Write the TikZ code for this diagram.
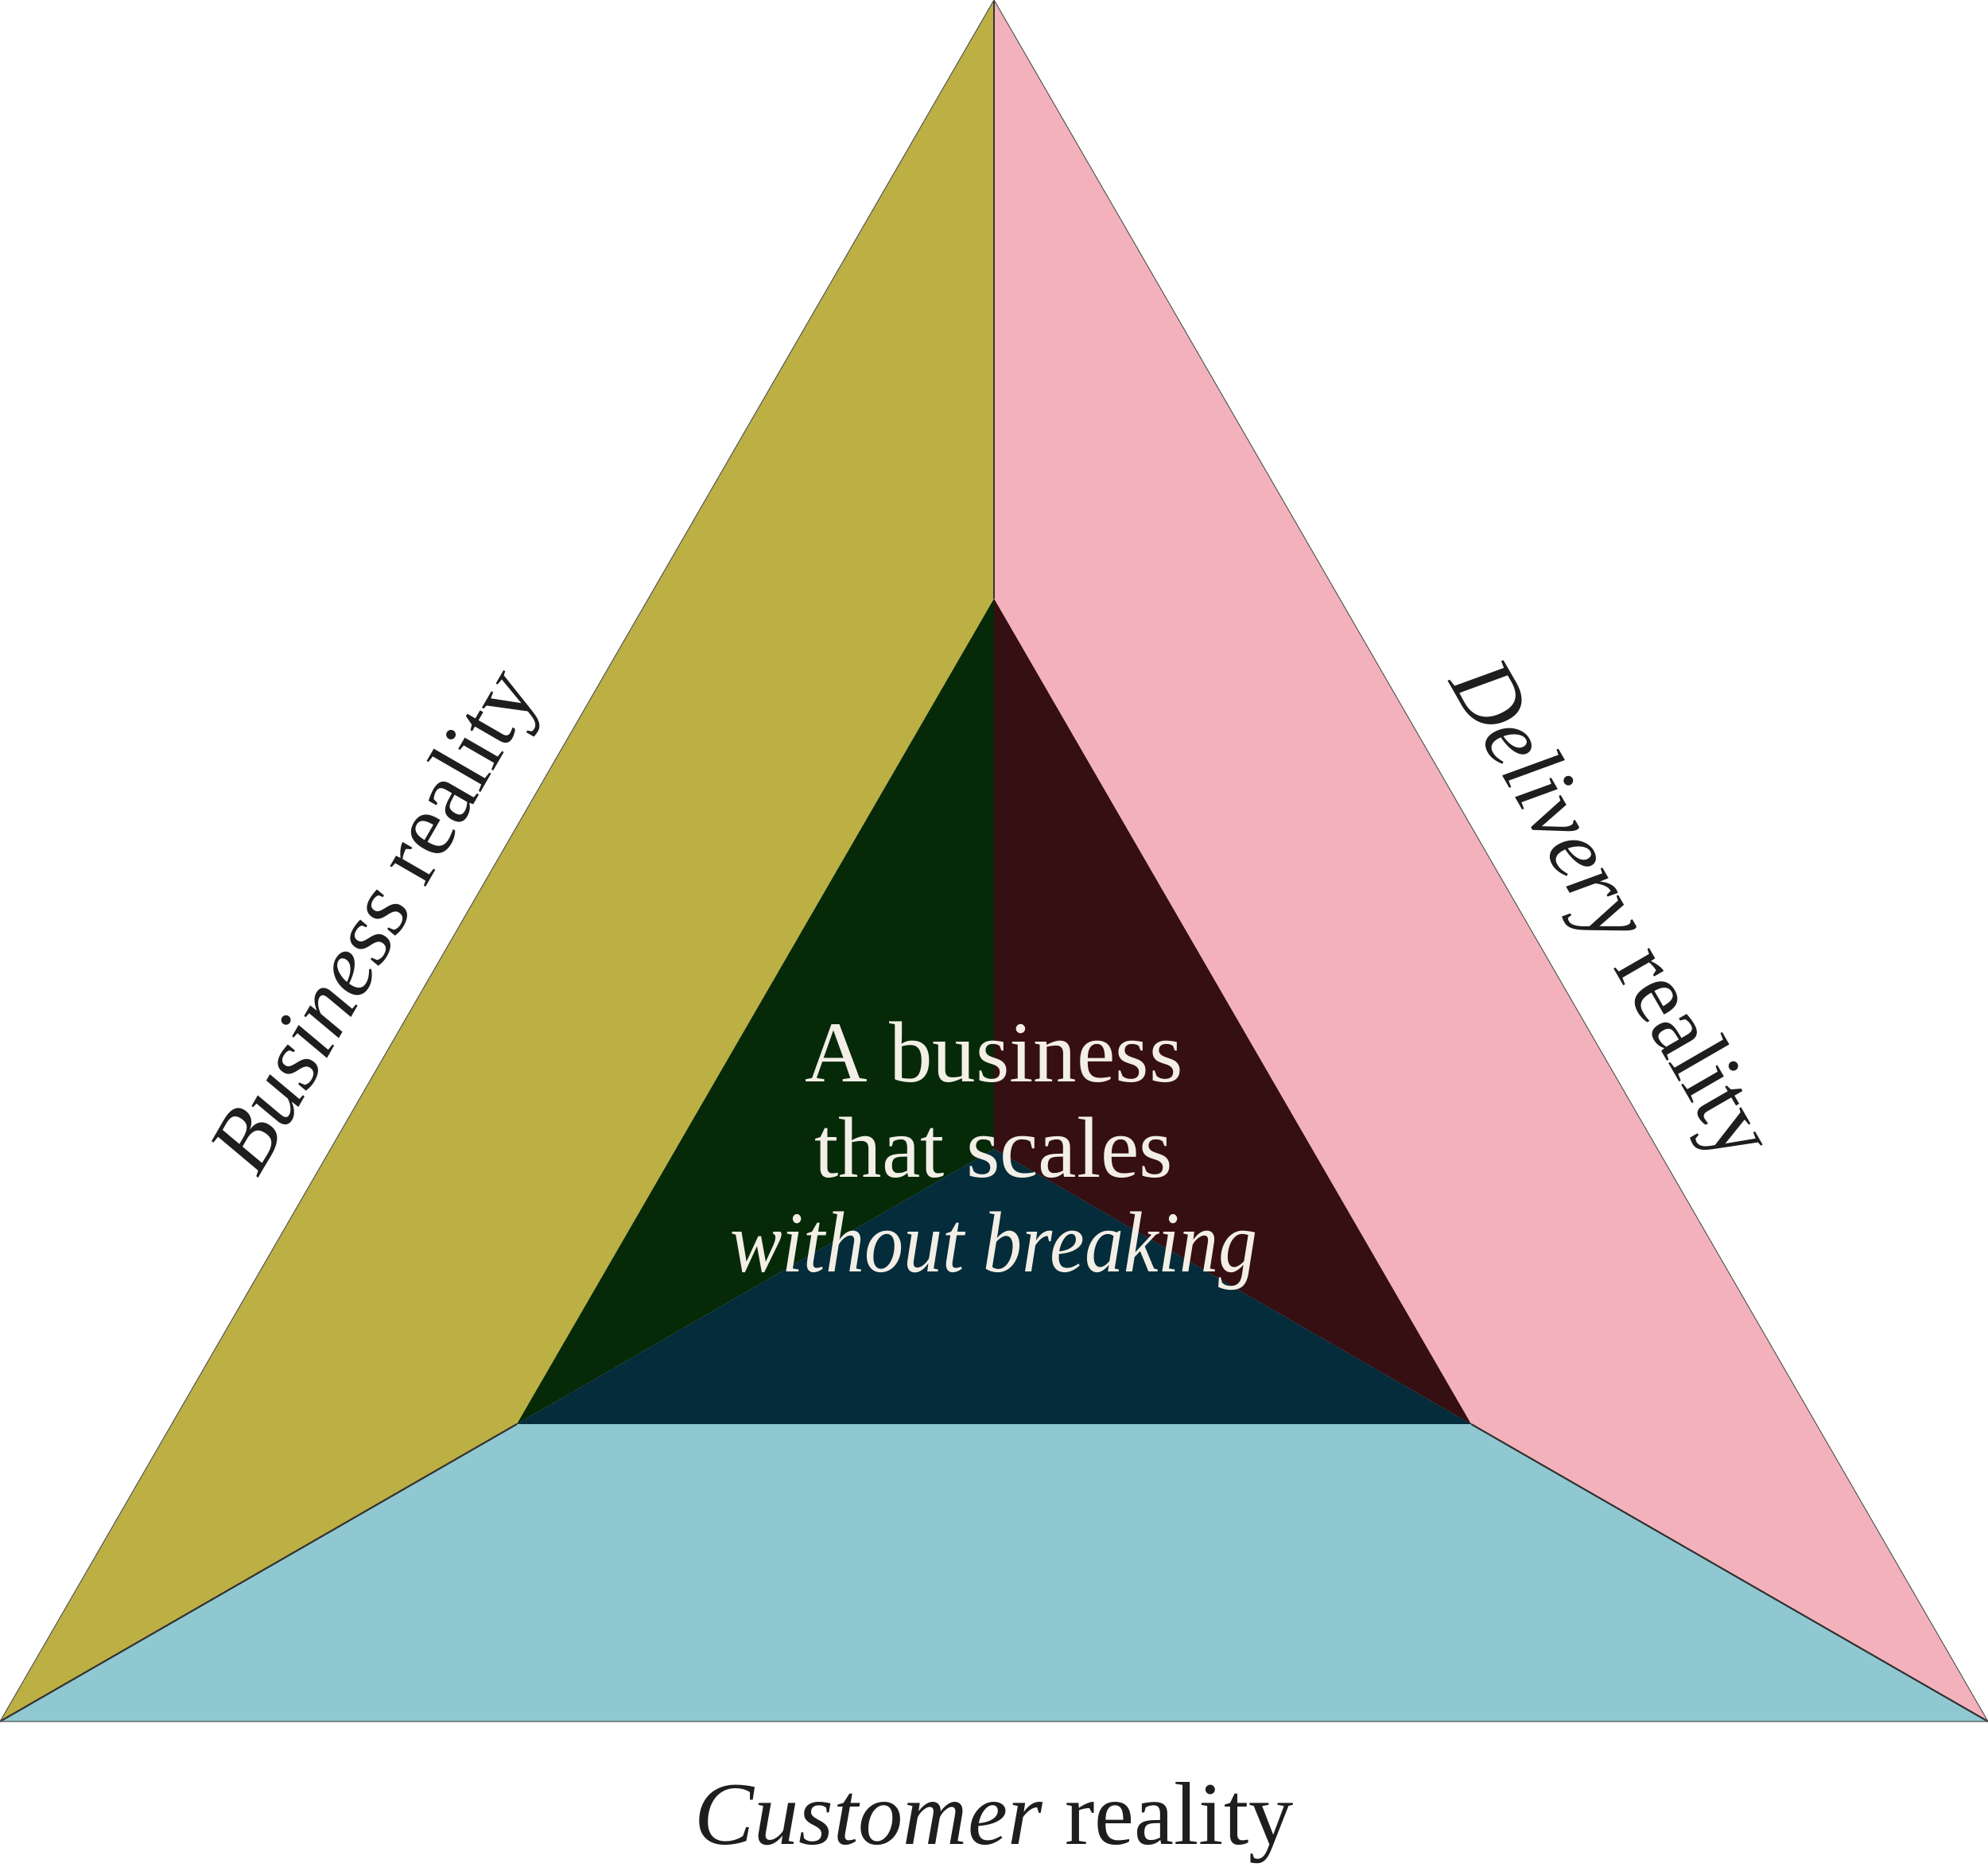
\documentclass[tikz,border=0pt]{standalone}
\usepackage{fontspec}
\setmainfont{Liberation Serif}
\newfontfamily\slimserif[FakeStretch=0.9]{Liberation Serif}
\usetikzlibrary{positioning}

\definecolor{bizolive}{HTML}{BCAF44}
\definecolor{delpink}{HTML}{F3B2BB}
\definecolor{custblue}{HTML}{8FC8D1}
\definecolor{coregreen}{HTML}{062A08}
\definecolor{corered}{HTML}{360F12}
\definecolor{coreblue}{HTML}{042C3A}
\definecolor{cream}{HTML}{F3EFE6}
\definecolor{ink}{HTML}{1E1E1E}

\begin{document}
\begin{tikzpicture}[
  rim/.style={draw=black!65, line width=0.3pt},
  seam/.style={draw=black!80, line width=0.6pt},
  side/.style={font=\fontsize{32}{38}\selectfont, text=ink},
  core/.style={font=\fontsize{31}{34}\selectfont, text=cream, align=center}
]
  \useasboundingbox (0,0) rectangle (25,23.48);

  % outer triangle
  \coordinate (apex) at (12.5, 23.48);
  \coordinate (bl)   at (0, 1.83);
  \coordinate (br)   at (25, 1.83);
  % inner triangle
  \coordinate (iapex) at (12.5, 15.95);
  \coordinate (ibl)   at (6.5, 5.57);
  \coordinate (ibr)   at (18.5, 5.57);
  \coordinate (hub)   at (12.5, 9.03);

  \fill[bizolive] (apex) -- (iapex) -- (ibl) -- (bl) -- cycle;
  \fill[delpink]  (apex) -- (br) -- (ibr) -- (iapex) -- cycle;
  \fill[custblue] (bl) -- (ibl) -- (ibr) -- (br) -- cycle;

  \fill[coregreen] (iapex) -- (hub) -- (ibl) -- cycle;
  \fill[corered]   (iapex) -- (ibr) -- (hub) -- cycle;
  \fill[coreblue]  (ibl) -- (hub) -- (ibr) -- cycle;

  \draw[seam] (apex) -- (iapex);
  \draw[seam] (bl) -- (ibl);
  \draw[seam] (br) -- (ibr);
  \draw[rim] (apex) -- (bl) -- (br) -- cycle;

  \node[side, rotate=60]  (biz)  at (4.78, 11.86) {\textit{Business} reality};
  \node[side, rotate=-60] (del)  at (20.2, 12.0) {\textit{Delivery} reality};
  \node[side, anchor=base] (cust) at (12.5, 0.28) {\textit{Customer} reality};

  \node[core] (claim) at (12.5, 8.94) {A business\\that scales\\{\slimserif\itshape without breaking}};
\end{tikzpicture}
\end{document}
